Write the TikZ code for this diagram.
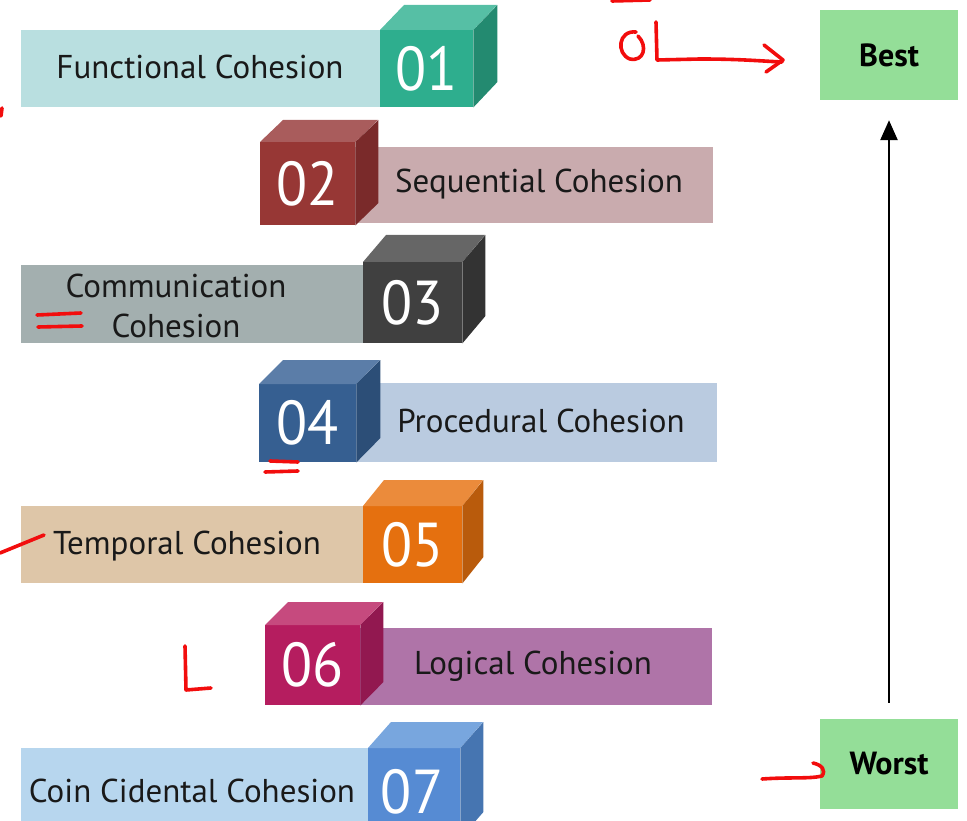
\documentclass[tikz,border=0pt]{standalone}
\usepackage{fontspec}
\setmainfont{PT Sans}
\usetikzlibrary{arrows.meta}
\definecolor{barA}{HTML}{B9DFE0}\definecolor{frA}{HTML}{2EAE8E}\definecolor{tpA}{HTML}{56BFA5}\definecolor{sdA}{HTML}{238A70}
\definecolor{barB}{HTML}{C9ABAE}\definecolor{frB}{HTML}{973735}\definecolor{tpB}{HTML}{A95C5C}\definecolor{sdB}{HTML}{7A2A2A}
\definecolor{barC}{HTML}{A3AFAF}\definecolor{frC}{HTML}{404040}\definecolor{tpC}{HTML}{666666}\definecolor{sdC}{HTML}{333333}
\definecolor{barD}{HTML}{BACBE0}\definecolor{frD}{HTML}{365F91}\definecolor{tpD}{HTML}{5B7DA8}\definecolor{sdD}{HTML}{2C4E77}
\definecolor{barE}{HTML}{DEC6A8}\definecolor{frE}{HTML}{E5700F}\definecolor{tpE}{HTML}{EB8B3B}\definecolor{sdE}{HTML}{B95B0C}
\definecolor{barF}{HTML}{AF74A8}\definecolor{frF}{HTML}{B51D5F}\definecolor{tpF}{HTML}{C64A7E}\definecolor{sdF}{HTML}{921850}
\definecolor{barG}{HTML}{B7D6EE}\definecolor{frG}{HTML}{568BD3}\definecolor{tpG}{HTML}{78A6DE}\definecolor{sdG}{HTML}{4675B1}
\definecolor{goodgreen}{HTML}{94DE98}
\definecolor{inkred}{HTML}{F20D0D}
\newcommand{\digits}[1]{\scalebox{0.92}[1]{\fontsize{62}{62}\selectfont #1}}
\tikzset{
  barbox/.style={rectangle, inner sep=0pt, anchor=north west},
  label/.style={font=\fontsize{33}{40}\selectfont, text=black!90, align=center},
  frontbox/.style={rectangle, inner sep=0pt, anchor=north west, text=white},
  rank/.style={rectangle, fill=goodgreen, inner sep=0pt, minimum width=138pt, minimum height=90pt, font=\bfseries\fontsize{32}{34}\selectfont},
  ink/.style={draw=inkred, line width=3.6pt, line cap=round, line join=round}
}
\begin{document}
\begin{tikzpicture}[x=1pt,y=-1pt]
\useasboundingbox (0,0) rectangle (967,821);
\clip (0,0) rectangle (967,821);
% row 1
\node[barbox, fill=barA, minimum width=359pt, minimum height=77pt] (b1) at (21,30) {};
\node[label] (t1) at (200,67) {Functional Cohesion};
\node[frontbox, fill=frA, minimum width=93pt, minimum height=77pt] (f1) at (380,30) {};
\fill[tpA] (f1.north west) -- ++(24,-25) -- ++(93,0) -- (f1.north east) -- cycle;
\fill[sdA] (f1.north east) -- ++(24,-25) -- ++(0,77) -- (f1.south east) -- cycle;
\node[text=white] (n1) at (f1.center) {\digits{01}};
% row 2
\node[barbox, fill=barB, minimum width=358pt, minimum height=76pt] (b2) at (355,147) {};
\node[label] (t2) at (539,184) {Sequential Cohesion};
\node[frontbox, fill=frB, minimum width=95pt, minimum height=83pt] (f2) at (260,142) {};
\fill[tpB] (f2.north west) -- ++(23,-22) -- ++(95,0) -- (f2.north east) -- cycle;
\fill[sdB] (f2.north east) -- ++(23,-22) -- ++(0,83) -- (f2.south east) -- cycle;
\node[text=white] (n2) at (f2.center) {\digits{02}};
% row 3
\node[barbox, fill=barC, minimum width=342pt, minimum height=78pt] (b3) at (21,265) {};
\node[label] (t3) at (176,306) {Communication\\Cohesion};
\node[frontbox, fill=frC, minimum width=99pt, minimum height=81pt] (f3) at (363,262) {};
\fill[tpC] (f3.north west) -- ++(23,-27) -- ++(99,0) -- (f3.north east) -- cycle;
\fill[sdC] (f3.north east) -- ++(23,-27) -- ++(0,81) -- (f3.south east) -- cycle;
\node[text=white] (n3) at (f3.center) {\digits{03}};
% row 4
\node[barbox, fill=barD, minimum width=361pt, minimum height=79pt] (b4) at (356,383) {};
\node[label] (t4) at (541,421) {Procedural Cohesion};
\node[frontbox, fill=frD, minimum width=97pt, minimum height=78pt] (f4) at (259,384) {};
\fill[tpD] (f4.north west) -- ++(24,-24) -- ++(97,0) -- (f4.north east) -- cycle;
\fill[sdD] (f4.north east) -- ++(24,-24) -- ++(0,78) -- (f4.south east) -- cycle;
\node[text=white] (n4) at (f4.center) {\digits{04}};
% row 5
\node[barbox, fill=barE, minimum width=342pt, minimum height=77pt] (b5) at (21,506) {};
\node[label] (t5) at (187,546) {Temporal Cohesion};
\node[frontbox, fill=frE, minimum width=99pt, minimum height=77pt] (f5) at (363,506) {};
\fill[tpE] (f5.north west) -- ++(21,-26) -- ++(99,0) -- (f5.north east) -- cycle;
\fill[sdE] (f5.north east) -- ++(21,-26) -- ++(0,77) -- (f5.south east) -- cycle;
\node[text=white] (n5) at (f5.center) {\digits{05}};
% row 6
\node[barbox, fill=barF, minimum width=352pt, minimum height=77pt] (b6) at (360,628) {};
\node[label] (t6) at (533,666) {Logical Cohesion};
\node[frontbox, fill=frF, minimum width=95pt, minimum height=80pt] (f6) at (265,625) {};
\fill[tpF] (f6.north west) -- ++(23,-23) -- ++(95,0) -- (f6.north east) -- cycle;
\fill[sdF] (f6.north east) -- ++(23,-23) -- ++(0,80) -- (f6.south east) -- cycle;
\node[text=white] (n6) at (f6.center) {\digits{06}};
% row 7
\node[barbox, fill=barG, minimum width=347pt, minimum height=90pt] (b7) at (21,748) {};
\node[label] (t7) at (192,791) {Coin Cidental Cohesion};
\node[frontbox, fill=frG, minimum width=92pt, minimum height=90pt] (f7) at (368,748) {};
\fill[tpG] (f7.north west) -- ++(23,-26) -- ++(92,0) -- (f7.north east) -- cycle;
\fill[sdG] (f7.north east) -- ++(23,-26) -- ++(0,90) -- (f7.south east) -- cycle;
\node[text=white] (n7) at (412,792) {\digits{07}};
% best / worst
\node[rank] (best) at (889,55) {Best};
\node[rank] (worst) at (889,764) {Worst};
\draw[line width=2.6pt, -{Triangle[length=20pt,width=17pt]}, shorten <=16pt, shorten >=20pt] (worst.north) -- (best.south);
% red annotations
\draw[ink] (612,1) -- (650,0);
\draw[ink] (636,32) .. controls (618,30) and (616,54) .. (630,59) .. controls (644,62) and (648,46) .. (638,36);
\draw[ink] (656,22) -- (657,60) -- (700,59) .. controls (740,59) and (760,61) .. (782,62);
\draw[ink] (764,45) -- (783,60) -- (766,72);
\draw[ink] (2,108) -- (1,116);
\draw[ink] (37,315) -- (81,313);
\draw[ink] (38,327) -- (82,326);
\draw[ink] (270,461) -- (298,462);
\draw[ink] (265,472) -- (298,471);
\draw[ink] (0,553) -- (44,535);
\draw[ink] (185,646) -- (186,690) -- (211,688);
\draw[ink] (762,779) .. controls (790,777) and (810,779) .. (822,776) .. controls (826,770) and (822,765) .. (813,763);
\end{tikzpicture}
\end{document}
